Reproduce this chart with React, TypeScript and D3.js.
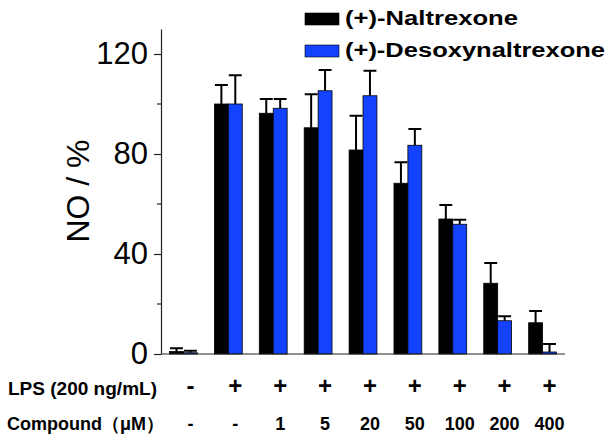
import React, { useEffect, useRef } from 'react';
import * as d3 from 'd3';

const groups = ['ctrl', 'lps', 'c1', 'c5', 'c20', 'c50', 'c100', 'c200', 'c400'];
const naltrexone = [1.0, 100, 96.3, 90.5, 81.6, 68.3, 54.0, 28.3, 12.5];
const naltrexoneErr = [1.3, 7.6, 5.7, 13.4, 13.7, 8.4, 5.6, 8.1, 4.7];
const desoxy = [0.5, 100, 98.3, 105.3, 103.3, 83.5, 51.9, 13.3, 0.8];
const desoxyErr = [0.8, 11.5, 3.7, 8.3, 10.0, 6.5, 1.8, 1.8, 3.2];
const lpsLabels = ['-', '+', '+', '+', '+', '+', '+', '+', '+'];
const compoundLabels = ['-', '-', '1', '5', '20', '50', '100', '200', '400'];
const majorTicks = [0, 40, 80, 120];
const minorTicks = [20, 60, 100];
const seriesNames = ['(+)-Naltrexone', '(+)-Desoxynaltrexone'];

const BLUE = '#1343ff';
const FONT = '"Liberation Sans", Arial, sans-serif';

const App = () => {
  const ref = useRef<SVGSVGElement>(null);

  useEffect(() => {
    document.body.style.margin = '0';
    const width = 613;
    const height = 441;
    const svg = d3.select(ref.current).attr('width', width).attr('height', height);
    svg.selectAll('*').remove();

    const x = d3.scaleBand().domain(groups).range([161, 565]).paddingInner(0.38).paddingOuter(0.19);
    const xs = d3.scaleBand().domain(['a', 'b']).range([0, x.bandwidth()]);
    const y = d3.scaleLinear().domain([0, 130]).range([354, 29]);

    // bars
    const series = [
      { key: 'a', vals: naltrexone, errs: naltrexoneErr, color: '#000' },
      { key: 'b', vals: desoxy, errs: desoxyErr, color: BLUE },
    ];
    series.forEach((s) => {
      const g = svg.append('g');
      // error bars (upper only)
      g.selectAll('line.err')
        .data(groups)
        .enter()
        .append('line')
        .attr('x1', (d) => x(d)! + xs(s.key)! + xs.bandwidth() / 2)
        .attr('x2', (d) => x(d)! + xs(s.key)! + xs.bandwidth() / 2)
        .attr('y1', (d, i) => y(s.vals[i]))
        .attr('y2', (d, i) => y(s.vals[i] + s.errs[i]))
        .attr('stroke', '#000')
        .attr('stroke-width', 2);
      g.selectAll('line.cap')
        .data(groups)
        .enter()
        .append('line')
        .attr('x1', (d) => x(d)! + xs(s.key)! + 0.5)
        .attr('x2', (d) => x(d)! + xs(s.key)! + xs.bandwidth() - 0.5)
        .attr('y1', (d, i) => y(s.vals[i] + s.errs[i]))
        .attr('y2', (d, i) => y(s.vals[i] + s.errs[i]))
        .attr('stroke', '#000')
        .attr('stroke-width', 2);
      g.selectAll('rect')
        .data(groups)
        .enter()
        .append('rect')
        .attr('x', (d) => x(d)! + xs(s.key)!)
        .attr('width', xs.bandwidth())
        .attr('y', (d, i) => y(s.vals[i]))
        .attr('height', (d, i) => y(0) - y(s.vals[i]))
        .attr('fill', s.color)
        .attr('stroke', '#000')
        .attr('stroke-width', 0.8);
    });

    // y axis
    const yAxis = svg.append('g').attr('transform', 'translate(161,0)');
    yAxis.call(d3.axisLeft(y).tickValues(majorTicks).tickSize(7).tickSizeOuter(0).tickPadding(6))
      .call((g) => g.select('.domain').attr('stroke', '#222').attr('stroke-width', 1.2))
      .call((g) => g.selectAll('.tick line').attr('stroke', '#222').attr('stroke-width', 1.2))
      .call((g) =>
        g.selectAll('.tick text')
          .attr('font-family', FONT)
          .attr('font-size', 31)
          .attr('fill', '#000')
      );
    yAxis.selectAll('line.minor')
      .data(minorTicks)
      .enter()
      .append('line')
      .attr('x1', -4)
      .attr('x2', 0)
      .attr('y1', (d) => y(d))
      .attr('y2', (d) => y(d))
      .attr('stroke', '#222')
      .attr('stroke-width', 1.2);

    // x baseline
    svg.append('line')
      .attr('x1', x.range()[0])
      .attr('x2', x.range()[1])
      .attr('y1', y(0))
      .attr('y2', y(0))
      .attr('stroke', '#222')
      .attr('stroke-width', 1.2);

    // y label
    svg.append('text')
      .attr('transform', 'translate(89,191) rotate(-90)')
      .attr('text-anchor', 'middle')
      .attr('font-family', FONT)
      .attr('font-size', 32)
      .text('NO / %');

    // legend
    const legend = svg.append('g');
    series.forEach((s, i) => {
      legend.append('rect')
        .attr('x', 305)
        .attr('y', 13 + i * 32)
        .attr('width', 34)
        .attr('height', 12)
        .attr('fill', s.color)
        .attr('stroke', '#000')
        .attr('stroke-width', 0.6);
      legend.append('text')
        .attr('x', 345)
        .attr('y', 25 + i * 32)
        .attr('font-family', FONT)
        .attr('font-weight', 'bold')
        .attr('font-size', 20)
        .attr('textLength', i === 0 ? 173 : 260)
        .attr('lengthAdjust', 'spacingAndGlyphs')
        .text(seriesNames[i]);
    });

    // condition rows
    const labelX = (d: string) => x(d)! + xs('b')! + xs.bandwidth() / 2;
    svg.append('text')
      .attr('x', 8)
      .attr('y', 395)
      .attr('font-family', FONT)
      .attr('font-weight', 'bold')
      .attr('font-size', 18)
      .attr('textLength', 149)
      .attr('lengthAdjust', 'spacingAndGlyphs')
      .text('LPS (200 ng/mL)');
    svg.append('text')
      .attr('x', 7)
      .attr('y', 430)
      .attr('font-family', FONT)
      .attr('font-weight', 'bold')
      .attr('font-size', 18)
      .text('Compound（μM）');
    svg.selectAll('text.lps')
      .data(groups)
      .enter()
      .append('text')
      .attr('x', (d) => labelX(d))
      .attr('y', 394)
      .attr('text-anchor', 'middle')
      .attr('font-family', FONT)
      .attr('font-weight', 'bold')
      .attr('font-size', 24)
      .text((d, i) => lpsLabels[i]);
    svg.selectAll('text.cmp')
      .data(groups)
      .enter()
      .append('text')
      .attr('x', (d) => labelX(d))
      .attr('y', 430)
      .attr('text-anchor', 'middle')
      .attr('font-family', FONT)
      .attr('font-weight', 'bold')
      .attr('font-size', 18)
      .text((d, i) => compoundLabels[i]);
  }, []);

  return <svg ref={ref} style={{ display: 'block' }}></svg>;
};

export default App;
